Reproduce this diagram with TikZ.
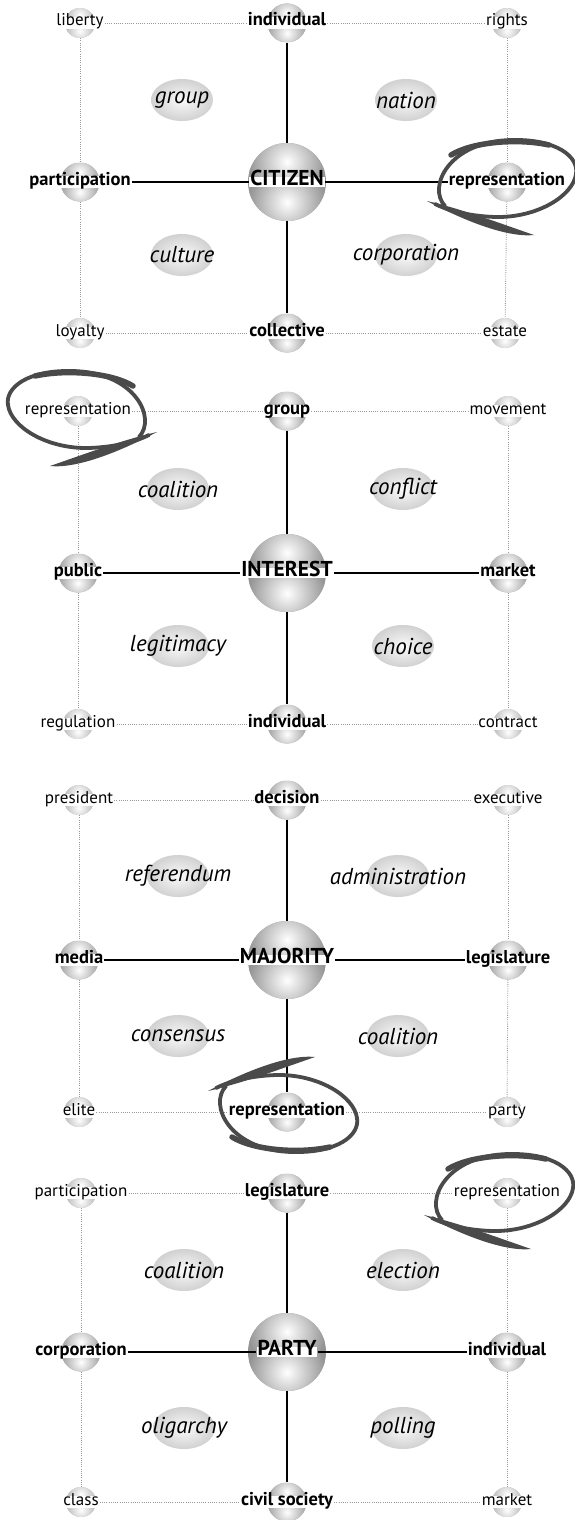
\documentclass[tikz,border=0pt]{standalone}
\usepackage{fontspec}
\setmainfont{PT Sans}
\usetikzlibrary{calc}
\definecolor{brushc}{HTML}{4A4A4A}
\tikzset{
  x=1pt, y=-1pt,
  sph/.style 2 args={circle, inner sep=0pt, minimum size=#1, path picture={
      \coordinate (ppc) at (path picture bounding box.center);
      \fill[gray!#2] (path picture bounding box.south west) rectangle (path picture bounding box.north east);
      \begin{scope}
        \clip (path picture bounding box.west) rectangle (path picture bounding box.north east);
        \shade[inner color=white, outer color=gray!#2] ($(ppc)+(0,0.26*#1)$) circle[radius=0.5*#1];
      \end{scope}
      \begin{scope}
        \clip (path picture bounding box.west) rectangle (path picture bounding box.south east);
        \shade[inner color=white, outer color=gray!#2] ($(ppc)+(0,-0.26*#1)$) circle[radius=0.5*#1];
      \end{scope}
  }},
  csph/.style={sph={30pt}{55}},
  bsph/.style={sph={39pt}{74}},
  msph/.style={sph={78pt}{84}},
  lab/.style={fill=white, inner xsep=1pt, inner ysep=1pt, text height=0.8em, text depth=0.2em},
  clab/.style={lab, font=\fontsize{17}{17}\selectfont},
  blab/.style={lab, font=\fontsize{18.5}{18.5}\selectfont\bfseries},
  mlab/.style={lab, inner ysep=1.5pt, text height=0.7em, text depth=0pt, font=\fontsize{21.5}{21.5}\selectfont\bfseries},
  qlab/.style={inner sep=0pt, font=\fontsize{23}{23}\selectfont\itshape},
  qshade/.style={inner color=gray!4, outer color=gray!36},
  dotl/.style={gray!80, line width=0.9pt, dash pattern=on 0.9pt off 1.3pt},
  soll/.style={black, line width=1.5pt},
  brushl/.style={draw=brushc, line cap=round, line join=round},
}
\newcommand\cnode[3]{\node[csph] (#1s) at (#2) {}; \node[clab] (#1) at (#2) {#3};}
\newcommand\bnode[3]{\node[bsph] (#1s) at (#2) {}; \node[blab] (#1) at (#2) {#3};}
\newcommand\mnode[3]{\node[msph] (#1s) at (#2) {}; \node[mlab] (#1) at (#2) {#3};}
\newcommand\qword[3]{\shade[qshade] (#2) ellipse[x radius=31pt, y radius=21pt]; \node[qlab] (#1) at (#2) {#3};}
\newcommand\conn[1]{%
  \draw[dotl] (#1TL) -- (#1TC); \draw[dotl] (#1TC) -- (#1TR);
  \draw[dotl] (#1BL) -- (#1BC); \draw[dotl] (#1BC) -- (#1BR);
  \draw[dotl] (#1TLs) -- (#1MLs); \draw[dotl] (#1MLs) -- (#1BLs);
  \draw[dotl] (#1TRs) -- (#1MRs); \draw[dotl] (#1MRs) -- (#1BRs);
  \draw[soll] (#1TCs) -- (#1Cs); \draw[soll] (#1Cs) -- (#1BCs);
  \draw[soll] (#1ML) -- (#1C); \draw[soll] (#1C) -- (#1MR);
}
\newcommand\brush[3]{%
  \begin{scope}[shift={(#1)}, xscale=#2, yscale=#3]
    \draw[brushl, line width=3.8pt] (-62,24) .. controls (-80,5) and (-58,-41) .. (5,-42)
      .. controls (50,-43) and (72,-25) .. (69,-8)
      .. controls (66,14) and (30,36) .. (-12,35)
      .. controls (-40,34) and (-60,28) .. (-72,22);
    \draw[brushl, line width=5.5pt] (-56,-27) .. controls (-35,-40) and (10,-44) .. (42,-37);
    \fill[brushc] (-80,19) .. controls (-45,27) and (-5,42) .. (27,53)
      .. controls (-2,56) and (-48,36) .. (-80,19) -- cycle;
  \end{scope}
}
\begin{document}
\begin{tikzpicture}
\useasboundingbox[fill=white] (0,0) rectangle (575,1520);
% ---------- panel 1
\cnode{aTL}{80,23}{liberty}
\bnode{aTC}{287,23}{individual}
\cnode{aTR}{507,23}{rights}
\bnode{aML}{80,182}{participation}
\mnode{aC}{287,182}{CITIZEN}
\bnode{aMR}{507,182}{representation}
\cnode{aBL}{80,333}{loyalty}
\bnode{aBC}{287,333}{collective}
\cnode{aBR}{505,333}{estate}
\qword{aQa}{182,100}{group}
\qword{aQb}{406,100}{nation}
\qword{aQc}{182,255}{culture}
\qword{aQd}{406,255}{corporation}
\conn{a}
% ---------- panel 2
\cnode{bTL}{78,411}{representation}
\bnode{bTC}{287,411}{group}
\cnode{bTR}{508,411}{movement}
\bnode{bML}{78,573}{public}
\mnode{bC}{287,573}{INTEREST}
\bnode{bMR}{508,573}{market}
\cnode{bBL}{78,724}{regulation}
\bnode{bBC}{287,724}{individual}
\cnode{bBR}{508,724}{contract}
\qword{bQa}{178,489}{coalition}
\qword{bQb}{403,489}{conflict}
\qword{bQc}{178,646}{legitimacy}
\qword{bQd}{403,646}{choice}
\conn{b}
% ---------- panel 3
\cnode{cTL}{79,800}{president}
\bnode{cTC}{287,800}{decision}
\cnode{cTR}{508,800}{executive}
\bnode{cML}{79,960}{media}
\mnode{cC}{287,960}{MAJORITY}
\bnode{cMR}{508,960}{legislature}
\cnode{cBL}{79,1112}{elite}
\bnode{cBC}{287,1112}{representation}
\cnode{cBR}{507,1112}{party}
\qword{cQa}{178,876}{referendum}
\qword{cQb}{398,876}{administration}
\qword{cQc}{178,1036}{consensus}
\qword{cQd}{398,1036}{coalition}
\conn{c}
% ---------- panel 4
\cnode{dTL}{81,1193}{participation}
\bnode{dTC}{287,1193}{legislature}
\cnode{dTR}{507,1193}{representation}
\bnode{dML}{81,1352}{corporation}
\mnode{dC}{287,1352}{PARTY}
\bnode{dMR}{507,1352}{individual}
\cnode{dBL}{81,1502}{class}
\bnode{dBC}{287,1502}{civil society}
\cnode{dBR}{507,1502}{market}
\qword{dQa}{184,1270}{coalition}
\qword{dQb}{403,1270}{election}
\qword{dQc}{184,1428}{oligarchy}
\qword{dQd}{403,1428}{polling}
\conn{d}
% ---------- brush loops
\brush{507,182}{1}{1}
\brush{77,413}{-1}{1}
\brush{288,1110}{1}{-1}
\brush{504,1196}{1}{1}
\end{tikzpicture}
\end{document}
